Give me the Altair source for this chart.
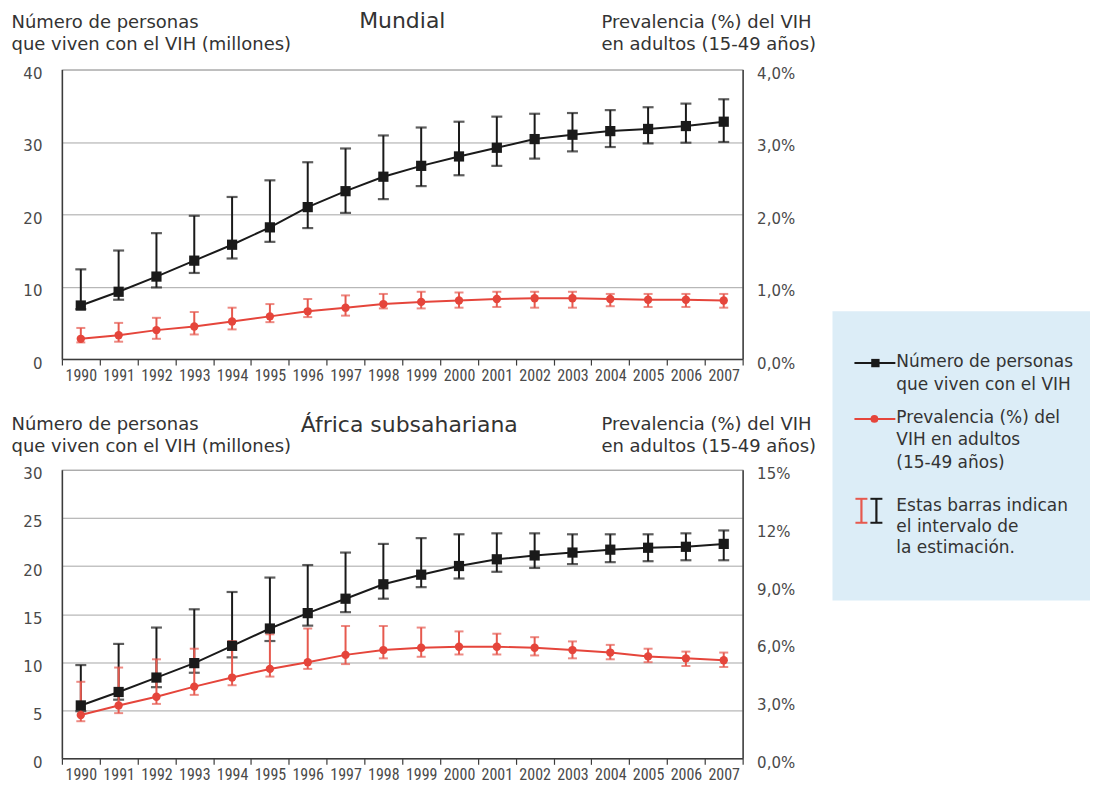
import altair as alt
import pandas as pd

years = list(range(1990, 2008))

# Mundial: people living with HIV (millions) and adult prevalence (%)
world_people    = [7.4, 9.3, 11.4, 13.6, 15.8, 18.2, 21.0, 23.2, 25.2, 26.7, 28.0, 29.2, 30.4, 31.0, 31.5, 31.8, 32.2, 32.8]
world_people_lo = [6.9, 8.2, 9.9, 11.9, 13.9, 16.2, 18.1, 20.2, 22.1, 23.9, 25.4, 26.7, 27.7, 28.7, 29.3, 29.8, 29.9, 30.0]
world_people_hi = [12.4, 15.0, 17.4, 19.8, 22.4, 24.7, 27.2, 29.1, 30.9, 32.0, 32.8, 33.5, 33.9, 34.0, 34.4, 34.8, 35.3, 35.9]
world_prev      = [0.28, 0.33, 0.40, 0.45, 0.52, 0.59, 0.66, 0.71, 0.76, 0.79, 0.81, 0.83, 0.84, 0.84, 0.83, 0.82, 0.82, 0.81]
world_prev_lo   = [0.23, 0.24, 0.28, 0.34, 0.41, 0.51, 0.58, 0.60, 0.70, 0.70, 0.71, 0.72, 0.71, 0.71, 0.73, 0.72, 0.72, 0.71]
world_prev_hi   = [0.43, 0.50, 0.57, 0.65, 0.71, 0.76, 0.83, 0.88, 0.90, 0.93, 0.92, 0.93, 0.93, 0.93, 0.90, 0.90, 0.90, 0.90]

# África subsahariana
ssa_people    = [5.5, 6.9, 8.4, 9.9, 11.7, 13.5, 15.1, 16.6, 18.1, 19.1, 20.0, 20.7, 21.1, 21.4, 21.7, 21.9, 22.0, 22.3]
ssa_people_lo = [4.9, 6.1, 7.4, 8.9, 10.5, 12.2, 13.8, 15.2, 16.6, 17.8, 18.7, 19.4, 19.8, 20.2, 20.4, 20.5, 20.6, 20.6]
ssa_people_hi = [9.7, 11.9, 13.6, 15.5, 17.3, 18.8, 20.1, 21.4, 22.3, 22.9, 23.3, 23.4, 23.4, 23.3, 23.3, 23.3, 23.4, 23.7]
ssa_prev      = [2.25, 2.75, 3.2, 3.73, 4.2, 4.65, 5.0, 5.38, 5.63, 5.75, 5.8, 5.8, 5.75, 5.63, 5.5, 5.3, 5.2, 5.1]
ssa_prev_lo   = [1.93, 2.35, 2.83, 3.3, 3.8, 4.25, 4.65, 4.9, 5.2, 5.28, 5.4, 5.4, 5.35, 5.2, 5.15, 5.0, 4.8, 4.75]
ssa_prev_hi   = [3.98, 4.72, 5.15, 5.7, 6.1, 6.45, 6.75, 6.88, 6.88, 6.8, 6.6, 6.48, 6.3, 6.08, 5.9, 5.7, 5.55, 5.5]

left_title = ["Número de personas", "que viven con el VIH (millones)"]
right_title = ["Prevalencia (%) del VIH", "en adultos (15-49 años)"]
legend_people = "Número de personas\nque viven con el VIH"
legend_prev = "Prevalencia (%) del\nVIH en adultos\n(15-49 años)"
legend_bars = "Estas barras indican\nel intervalo de\nla estimación."

FONT = "DejaVu Sans"
YEAR_FONT = "Liberation Sans Narrow, Roboto Condensed, Roboto"
BLACK = "#1a1a1a"
RED = "#e5453b"
RED_BAR = "#e6594e"
GRID = "#a6a6a6"
AXIS = "#3c3c3c"
LABEL = "#4a4a4a"
TEXT = "#333333"
BOX = "#dcedf7"
W = 682

dummy = pd.DataFrame({"k": [0]})


def txt(text, x, y, size=18, align="left", baseline="top", line_height=22, color=TEXT):
    return alt.Chart(dummy).mark_text(
        text=text, font=FONT, fontSize=size, color=color, align=align,
        baseline=baseline, lineBreak="\n", lineHeight=line_height,
    ).encode(x=alt.value(x), y=alt.value(y))


def panel(people, plo, phi, prev, vlo, vhi, ymax, yvals, pmax, pvals, height,
          title, title_x, title_y, axis_title_y, extra=()):
    df = pd.DataFrame({
        "year": years, "people": people, "people_lo": plo, "people_hi": phi,
        "prev": prev, "prev_lo": vlo, "prev_hi": vhi,
    })
    x_axis = alt.Axis(
        title=None, labelAngle=0, tickBand="extent", tickSize=6, tickColor=AXIS,
        tickWidth=1.2, domainColor=AXIS, domainWidth=1.5, labelFont=YEAR_FONT,
        labelFontSize=16, labelColor=LABEL, labelPadding=2, grid=False,
        labelOverlap=False,
    )
    base = alt.Chart(df).encode(
        x=alt.X("year:O", scale=alt.Scale(paddingInner=0, paddingOuter=0), axis=x_axis)
    )
    ysc = alt.Scale(domain=[0, ymax], nice=False, zero=False)
    psc = alt.Scale(domain=[0, pmax], nice=False, zero=False)
    left_axis = alt.Axis(
        title=left_title, titleX=-51, titleY=axis_title_y, titleAngle=0,
        titleAlign="left", titleBaseline="top", titleFont=FONT, titleFontSize=18,
        titleFontWeight="normal", titleColor=TEXT, titleLineHeight=22,
        values=yvals, grid=True, gridColor=GRID, gridWidth=1, ticks=False,
        domainColor=AXIS, domainWidth=1.5, labelFont=FONT, labelFontSize=15,
        labelColor=LABEL, labelPadding=20, labelOffset=4,
    )
    right_axis = alt.Axis(
        orient="right", title=right_title, titleX=-142, titleY=axis_title_y,
        titleAngle=0, titleAlign="left", titleBaseline="top", titleFont=FONT,
        titleFontSize=18, titleFontWeight="normal", titleColor=TEXT,
        titleLineHeight=22, values=pvals, grid=False, ticks=False,
        domainColor=AXIS, domainWidth=1.5, labelFont=FONT, labelFontSize=15,
        labelColor=LABEL, labelPadding=14, labelOffset=4,
        labelExpr="datum.value >= 10 ? format(datum.value, 'd') + '%' : "
                  "replace(format(datum.value, '.1f'), '.', ',') + '%'",
    )

    def yl(field):
        return alt.Y(field, type="quantitative", scale=ysc, axis=left_axis)

    def yr(field):
        return alt.Y(field, type="quantitative", scale=psc, axis=right_axis)

    black = alt.layer(
        base.mark_rule(color=BLACK, strokeWidth=2).encode(y=yl("people_lo"), y2="people_hi:Q"),
        base.mark_tick(color=BLACK, size=11, thickness=2.2).encode(y=yl("people_lo")),
        base.mark_tick(color=BLACK, size=11, thickness=2.2).encode(y=yl("people_hi")),
        base.mark_line(color=BLACK, strokeWidth=2).encode(y=yl("people")),
    )
    red = alt.layer(
        base.mark_rule(color=RED_BAR, strokeWidth=2).encode(y=yr("prev_lo"), y2="prev_hi:Q"),
        base.mark_tick(color=RED_BAR, size=9, thickness=2).encode(y=yr("prev_lo")),
        base.mark_tick(color=RED_BAR, size=9, thickness=2).encode(y=yr("prev_hi")),
        base.mark_line(color=RED, strokeWidth=2).encode(y=yr("prev")),
        base.mark_point(shape="circle", filled=True, size=70, color=RED, opacity=1).encode(y=yr("prev")),
    )
    black_pts = base.mark_point(shape="square", filled=True, size=105, color=BLACK, opacity=1).encode(
        y=alt.Y("people:Q", scale=ysc, axis=None)
    )
    title_mark = txt(title, title_x, title_y, size=22, align="center", baseline="alphabetic")
    return alt.layer(black, red, black_pts, title_mark, *extra).resolve_scale(
        y="independent"
    ).properties(width=W, height=height)


# legend panel (drawn in the top panel's coordinate frame, outside its plot area)
legend = [
    alt.Chart(dummy).mark_rect(fill=BOX).encode(
        x=alt.value(772), x2=alt.value(1030), y=alt.value(242), y2=alt.value(532)),
    alt.Chart(dummy).mark_rule(color=BLACK, strokeWidth=2).encode(
        x=alt.value(794), x2=alt.value(835), y=alt.value(294)),
    alt.Chart(dummy).mark_point(shape="square", filled=True, size=70, color=BLACK, opacity=1).encode(
        x=alt.value(815), y=alt.value(294)),
    txt(legend_people, 836, 285, size=17, line_height=23),
    alt.Chart(dummy).mark_rule(color=RED, strokeWidth=2).encode(
        x=alt.value(794), x2=alt.value(835), y=alt.value(350)),
    alt.Chart(dummy).mark_point(shape="circle", filled=True, size=60, color=RED, opacity=1).encode(
        x=alt.value(814), y=alt.value(350)),
    txt(legend_prev, 836, 341, size=17, line_height=22.5),
    # "I" shaped interval glyphs
    alt.Chart(dummy).mark_rule(color=RED_BAR, strokeWidth=2.2).encode(
        x=alt.value(801), y=alt.value(430), y2=alt.value(454)),
    alt.Chart(dummy).mark_rule(color=RED_BAR, strokeWidth=2).encode(
        x=alt.value(795), x2=alt.value(807), y=alt.value(430)),
    alt.Chart(dummy).mark_rule(color=RED_BAR, strokeWidth=2).encode(
        x=alt.value(795), x2=alt.value(807), y=alt.value(454)),
    alt.Chart(dummy).mark_rule(color=BLACK, strokeWidth=2.2).encode(
        x=alt.value(816), y=alt.value(430), y2=alt.value(454)),
    alt.Chart(dummy).mark_rule(color=BLACK, strokeWidth=2).encode(
        x=alt.value(810), x2=alt.value(822), y=alt.value(430)),
    alt.Chart(dummy).mark_rule(color=BLACK, strokeWidth=2).encode(
        x=alt.value(810), x2=alt.value(822), y=alt.value(454)),
    txt(legend_bars, 836, 429, size=17, line_height=21),
]

top = panel(world_people, world_people_lo, world_people_hi,
            world_prev, world_prev_lo, world_prev_hi,
            40, [0, 10, 20, 30, 40], 4, [0, 1, 2, 3, 4], 290,
            "Mundial", 341, -42, -56, extra=legend)

bottom = panel(ssa_people, ssa_people_lo, ssa_people_hi,
               ssa_prev, ssa_prev_lo, ssa_prev_hi,
               30, [0, 5, 10, 15, 20, 25, 30], 15, [0, 3, 6, 9, 12, 15], 289,
               "África subsahariana", 348, -38, -54)

chart = alt.vconcat(top, bottom, spacing=111, bounds="flush").properties(
    padding={"left": 2, "top": 0, "right": 0, "bottom": 0},
    background="white",
).configure_view(stroke="#c4c4c4", strokeWidth=1.2)

chart.save("out.html", embed_options={"renderer": "svg", "actions": False})
